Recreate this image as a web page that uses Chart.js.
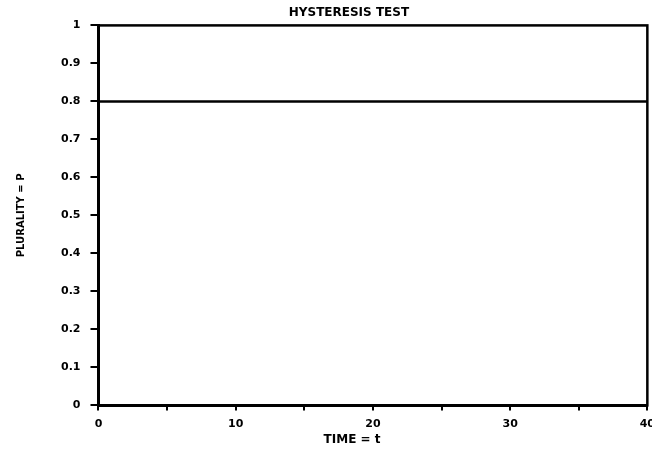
<!DOCTYPE html>
<html>
<head>
<meta charset="utf-8">
<script src="https://cdn.jsdelivr.net/npm/chart.js@4"></script>
<style>
    html, body { margin: 0; padding: 0; background: #fff; overflow: hidden; }
    #wrap { width: 662px; height: 456px; }
</style>
</head>
<body>
<div id="wrap"><canvas id="chart"></canvas></div>
<script>
// 数据
const timeValues = [0, 40];
const pluralityValues = [0.8, 0.8];
const xTickLabels = [0, 10, 20, 30, 40];

const points = timeValues.map((t, i) => ({ x: t, y: pluralityValues[i] }));

// 绘制图表区域的边框
const boxPlugin = {
    id: 'box',
    afterDraw(chart) {
        const { ctx, chartArea } = chart;
        ctx.save();
        ctx.strokeStyle = '#000';
        ctx.lineWidth = 2.5;
        ctx.strokeRect(chartArea.left, chartArea.top, chartArea.right - chartArea.left, chartArea.bottom - chartArea.top);
        ctx.restore();
    }
};

const font = { family: 'DejaVu Sans', weight: 'bold', size: 11 };

new Chart(document.getElementById('chart').getContext('2d'), {
    type: 'line',
    data: {
        datasets: [{
            data: points,
            borderColor: '#000',
            borderWidth: 2.5,
            pointRadius: 0,
            fill: false
        }]
    },
    options: {
        responsive: true,
        maintainAspectRatio: false,
        animation: false,
        layout: { padding: { left: 15, right: 0, top: 0, bottom: 9 } },
        plugins: {
            legend: { display: false },
            tooltip: { enabled: false },
            title: {
                display: true,
                // 前面的空格让标题稍微靠右
                text: '     HYSTERESIS TEST',
                color: '#000',
                font: { family: 'DejaVu Sans', weight: 'bold', size: 12 },
                padding: { top: 6, bottom: 5 }
            }
        },
        scales: {
            x: {
                type: 'linear',
                min: 0,
                max: 40,
                border: { display: true, color: '#000', width: 3 },
                grid: { drawOnChartArea: false, drawTicks: true, tickLength: 5, color: '#000', lineWidth: 2 },
                ticks: {
                    stepSize: 5,
                    color: '#000',
                    font: font,
                    padding: 7,
                    maxRotation: 0,
                    callback: v => xTickLabels.includes(v) ? v : ''
                },
                title: {
                    display: true,
                    text: 'TIME = t          ',
                    color: '#000',
                    font: { family: 'DejaVu Sans', weight: 'bold', size: 12 },
                    padding: { top: -5, bottom: 0 }
                }
            },
            y: {
                min: 0,
                max: 1,
                border: { display: true, color: '#000', width: 3 },
                grid: { drawOnChartArea: false, drawTicks: true, tickLength: 8, color: '#000', lineWidth: 2 },
                ticks: {
                    stepSize: 0.1,
                    color: '#000',
                    font: font,
                    padding: 10,
                    callback: v => String(+v.toFixed(1))
                },
                title: {
                    display: true,
                    text: 'PLURALITY = P',
                    color: '#000',
                    font: { family: 'DejaVu Sans', weight: 'bold', size: 10 },
                    padding: { top: 0, bottom: 24 }
                }
            }
        }
    },
    plugins: [boxPlugin]
});
</script>
</body>
</html>
